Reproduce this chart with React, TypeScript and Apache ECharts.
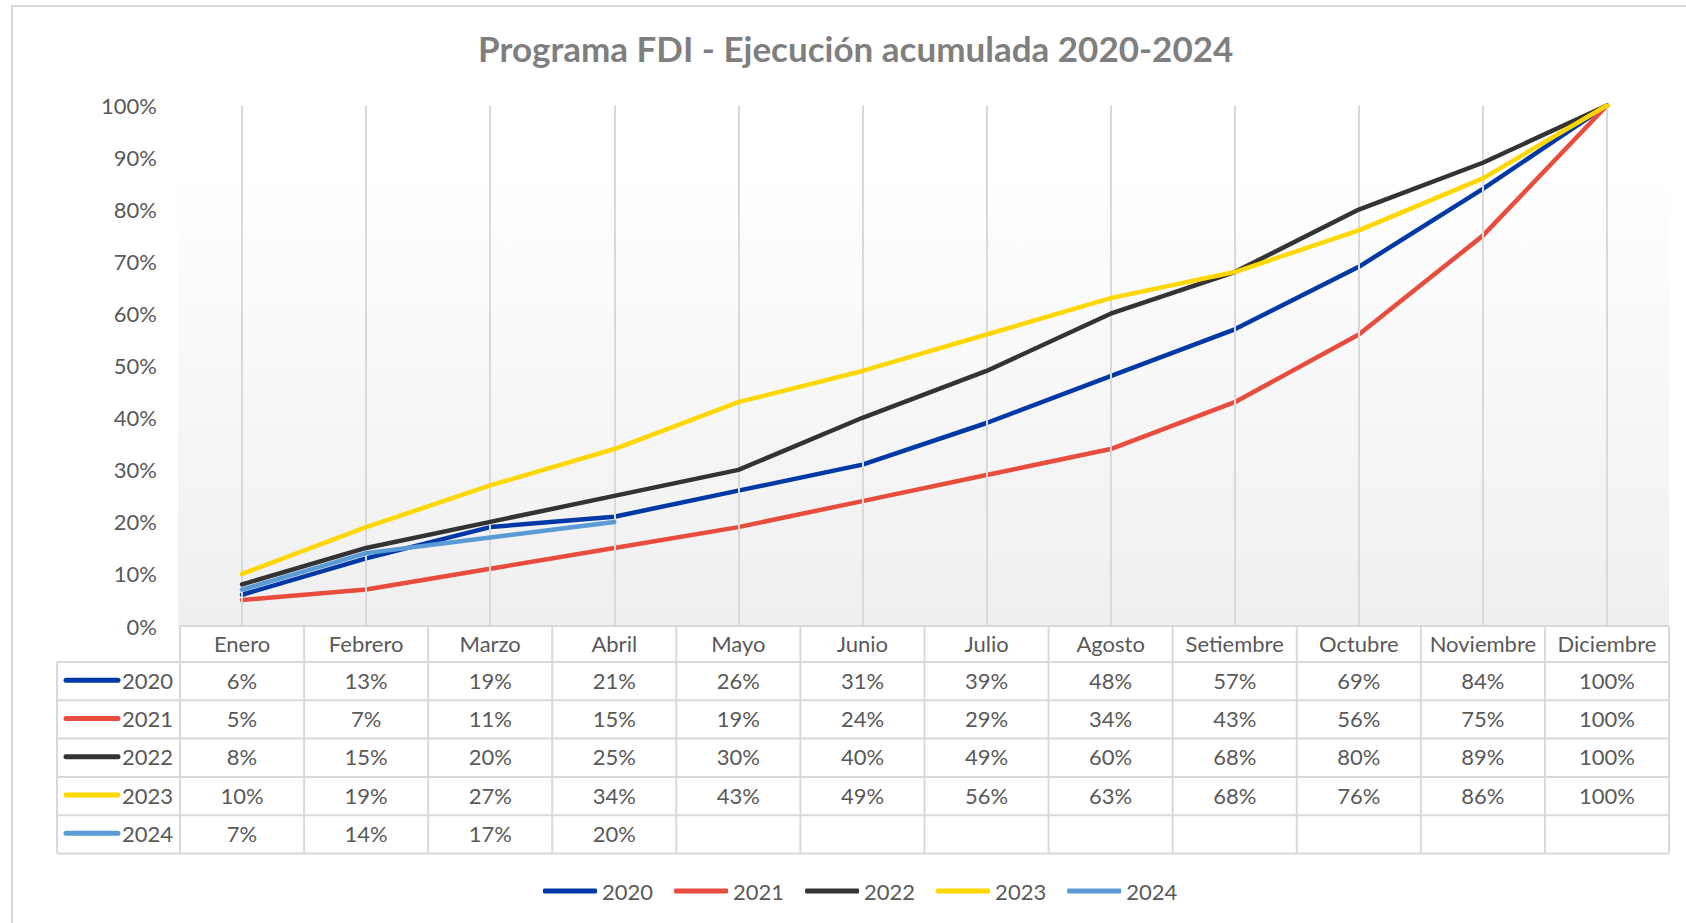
import React, { useEffect, useRef } from "react";
import * as echarts from "echarts";

const categories = ["Enero", "Febrero", "Marzo", "Abril", "Mayo", "Junio", "Julio", "Agosto", "Setiembre", "Octubre", "Noviembre", "Diciembre"];
const years = ["2020", "2021", "2022", "2023", "2024"];
const v2020 = [6, 13, 19, 21, 26, 31, 39, 48, 57, 69, 84, 100];
const v2021 = [5, 7, 11, 15, 19, 24, 29, 34, 43, 56, 75, 100];
const v2022 = [8, 15, 20, 25, 30, 40, 49, 60, 68, 80, 89, 100];
const v2023 = [10, 19, 27, 34, 43, 49, 56, 63, 68, 76, 86, 100];
const v2024 = [7, 14, 17, 20, null, null, null, null, null, null, null, null];
const seriesValues = [v2020, v2021, v2022, v2023, v2024];
const colors = ["#0039a6", "#e84c3d", "#333333", "#ffd700", "#5b9bd5"];
const yMin = 0;
const yMax = 100;
const yInterval = 10;
const title = "Programa FDI - Ejecución acumulada 2020-2024";

const W = 1686;
const H = 923;
const plotLeft = 180;
const plotRight = 1669;
const plotTop = 105.5;
const plotBottom = 626;
const headerBottom = 662;
const rowH = 38.3;
const labelColLeft = 57;
const FONT = "Lato";
const TXT = "#595959";
const BORDER = "#d9d9d9";

export default function App() {
  const ref = useRef<HTMLDivElement>(null);
  useEffect(() => {
    if (!ref.current) return;
    const chart = echarts.init(ref.current, null, { renderer: "svg" });
    const colW = (plotRight - plotLeft) / categories.length;
    const tableBottom = headerBottom + rowH * years.length;
    const g: any[] = [];
    // outer chart border
    g.push({ type: "rect", z: 0, shape: { x: 12, y: 6, width: 1700, height: 1000 }, style: { fill: "#ffffff", stroke: BORDER, lineWidth: 2 } });
    // plot background gradient
    g.push({
      type: "rect", z: 1,
      shape: { x: plotLeft - 2, y: 165, width: plotRight - plotLeft + 2, height: plotBottom - 165 },
      style: {
        fill: new echarts.graphic.LinearGradient(0, 0, 0, 1, [
          { offset: 0, color: "#ffffff" },
          { offset: 1, color: "#efefef" },
        ]),
      },
    });
    const line = (x1: number, y1: number, x2: number, y2: number) => ({
      type: "line", z: 5, shape: { x1, y1, x2, y2 }, style: { stroke: BORDER, lineWidth: 2 },
    });
    // horizontal table lines
    g.push(line(plotLeft, plotBottom, plotRight, plotBottom));
    for (let r = 0; r <= years.length; r++) {
      const y = headerBottom + r * rowH;
      g.push(line(labelColLeft, y, plotRight, y));
    }
    // vertical table lines
    g.push(line(labelColLeft, headerBottom, labelColLeft, tableBottom));
    for (let c = 0; c <= categories.length; c++) {
      const x = plotLeft + c * colW;
      g.push(line(x, plotBottom, x, tableBottom));
    }
    // header texts
    categories.forEach((cat, c) => {
      g.push({
        type: "text", z: 6,
        style: { text: cat, x: plotLeft + (c + 0.5) * colW, y: (plotBottom + headerBottom) / 2 - 1, align: "center", verticalAlign: "middle", fill: TXT, fontSize: 22, fontFamily: FONT },
      });
    });
    // rows
    years.forEach((yr, r) => {
      const cy = headerBottom + (r + 0.5) * rowH - 1;
      g.push({ type: "line", z: 6, shape: { x1: 66, y1: cy, x2: 118, y2: cy }, style: { stroke: colors[r], lineWidth: 5, lineCap: "round" } });
      g.push({ type: "text", z: 6, style: { text: yr, x: 173, y: cy, align: "right", verticalAlign: "middle", fill: TXT, fontSize: 22, fontFamily: FONT } });
      seriesValues[r].forEach((v, c) => {
        if (v === null || v === undefined) return;
        g.push({
          type: "text", z: 6,
          style: { text: `${v}%`, x: plotLeft + (c + 0.5) * colW, y: cy, align: "center", verticalAlign: "middle", fill: TXT, fontSize: 22, fontFamily: FONT },
        });
      });
    });

    const series: any[] = [
      {
        type: "line", name: "grid", data: [], z: 2, silent: true,
        markLine: {
          silent: true, symbol: ["none", "none"], label: { show: false },
          lineStyle: { type: "solid", color: BORDER, width: 2 },
          data: categories.map((c) => ({ xAxis: c })),
        },
      },
      ...years.map((yr, i) => ({
        type: "line", name: yr, data: seriesValues[i], z: 3 + i,
        showSymbol: false, symbol: "none", connectNulls: false,
        lineStyle: { width: 4.5, color: colors[i], join: "round", cap: "round" },
        itemStyle: { color: colors[i] },
      })),
    ];

    chart.setOption({
      animation: false,
      backgroundColor: "#ffffff",
      title: {
        text: title, left: 478, top: 30, padding: 0,
        textStyle: { fontFamily: FONT, fontWeight: "bold", fontSize: 35, color: "#7f7f7f" },
      },
      legend: {
        data: years, left: 538, top: 875, itemWidth: 54, itemHeight: 5, itemGap: 21, icon: "roundRect",
        textStyle: { fontFamily: FONT, fontSize: 22, color: TXT },
      },
      grid: { left: plotLeft, right: W - plotRight, top: plotTop, bottom: H - plotBottom, containLabel: false },
      xAxis: {
        type: "category", data: categories, boundaryGap: true,
        axisLabel: { show: false }, axisLine: { show: false }, axisTick: { show: false }, splitLine: { show: false },
      },
      yAxis: {
        type: "value", min: yMin, max: yMax, interval: yInterval,
        axisLabel: { formatter: "{value}%", fontFamily: FONT, fontSize: 22, color: TXT, margin: 23 },
        axisLine: { show: false }, axisTick: { show: false }, splitLine: { show: false },
      },
      graphic: { elements: g },
      series,
    });
    return () => chart.dispose();
  }, []);
  return <div ref={ref} style={{ position: "fixed", left: 0, top: 0, width: W, height: H }} />;
}
